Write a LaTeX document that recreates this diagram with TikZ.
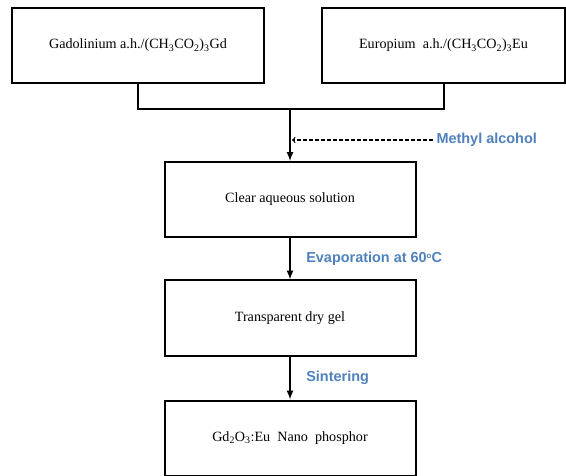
\documentclass[tikz,border=0pt]{standalone}
\usepackage{fontspec}
\setmainfont{Liberation Serif}
\newfontfamily\labelfont{Liberation Sans}
\usetikzlibrary{arrows}
\definecolor{labelblue}{RGB}{79,129,189}
\tikzset{bx/.style={draw,line width=2bp,minimum width=251bp,minimum height=75bp,font=\fontsize{14.2}{14.2}\selectfont}}
\tikzset{lb/.style={font=\labelfont\bfseries\fontsize{14.5}{14.5}\selectfont,text=labelblue}}

\begin{document}
\begin{tikzpicture}[x=1bp,y=-1bp]
        \useasboundingbox (0,0) rectangle (566,476);
        \node[bx,minimum width=252bp] (Gd) at (138,45.5) {Gadolinium a.h./(CH\textsubscript{3}CO\textsubscript{2})\textsubscript{3}Gd};
        \node[bx,minimum width=243bp] (Eu) at (443.5,45.5) {Europium\ \ a.h./(CH\textsubscript{3}CO\textsubscript{2})\textsubscript{3}Eu};
        \coordinate (J) at (290,109);
        \draw[line width=2bp] (Gd.south) |- (J) -| (Eu.south);
        \begin{scope}[line width=2bp,>=latex]
          \node[bx] (C) at (290,199.5) {Clear aqueous solution}
            edge [<-] (J);
          \node[bx] (T) at (290,318) {Transparent dry gel}
            edge [<-] node [lb, right, xshift=12bp] {Evaporation at 60\raisebox{4bp}{\fontsize{8}{8}\selectfont o}C} (C);
          \node[bx] (P) at (290,438) {Gd\textsubscript{2}O\textsubscript{3}:Eu\ \ Nano\ \ phosphor}
            edge [<-] node [lb, right, xshift=12bp] {Sintering} (T);
        \end{scope}
        \node[lb, anchor=west] (MA) at (433,140) {Methyl alcohol};
        \draw[->,>=to,line width=1.3bp,dash pattern=on 4bp off 2bp] (MA.west) -- ([xshift=2bp]MA.west -| J);
      \end{tikzpicture}
\end{document}
